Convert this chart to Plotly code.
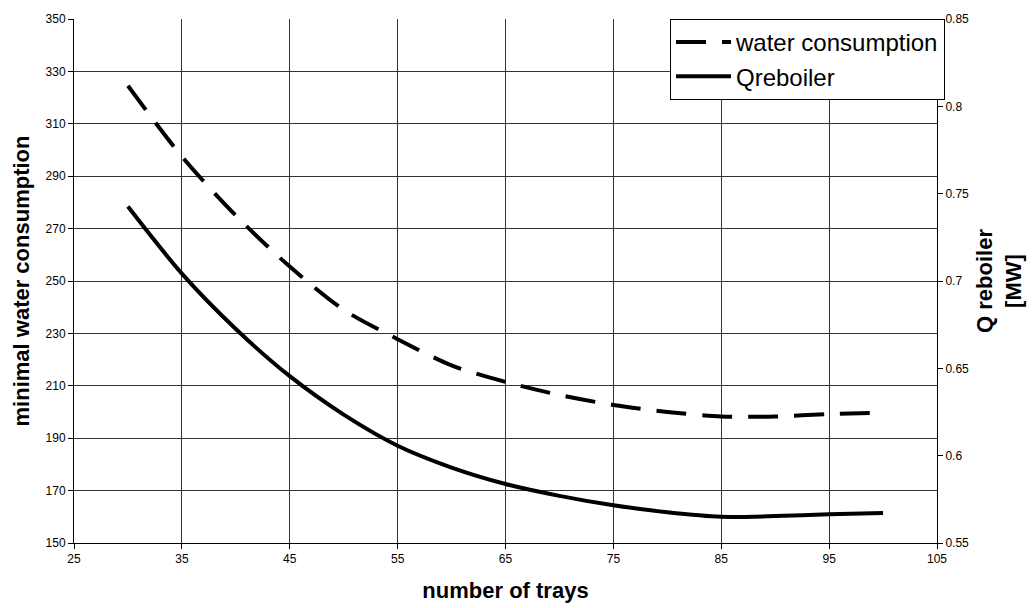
import plotly.graph_objects as go

trays = [30, 35, 40, 45, 50, 55, 60, 65, 70, 75, 80, 85, 90, 95, 100]
water = [324.5, 297.5, 275, 255.5, 239, 227.8, 217.8, 211.5, 206.5, 202.7, 200, 198.3, 198.3, 199.2, 199.8]
qreb = [0.7426, 0.7042, 0.6725, 0.6455, 0.6235, 0.6057, 0.5932, 0.5838, 0.577, 0.5716, 0.5676, 0.565, 0.5654, 0.5665, 0.5672]

left_ticks = [150, 170, 190, 210, 230, 250, 270, 290, 310, 330, 350]
right_ticks = [0.55, 0.6, 0.65, 0.7, 0.75, 0.8, 0.85]
right_labels = ["0.55", "0.6", "0.65", "0.7", "0.75", "0.8", "0.85"]
x_ticks = [25, 35, 45, 55, 65, 75, 85, 95, 105]

FONT = "Liberation Sans, Arial, sans-serif"

fig = go.Figure()
fig.add_trace(go.Scatter(
    x=trays, y=water, name="water consumption", mode="lines",
    line=dict(color="black", width=4, dash="30px,16px", shape="spline", smoothing=0.8),
    yaxis="y"))
fig.add_trace(go.Scatter(
    x=trays, y=qreb, name="Qreboiler", mode="lines",
    line=dict(color="black", width=4, shape="spline", smoothing=0.8),
    yaxis="y2"))

fig.update_layout(
    width=1034, height=608,
    margin=dict(l=74, r=97, t=19, b=65),
    paper_bgcolor="white", plot_bgcolor="white",
    font=dict(family=FONT, color="black", size=12),
    showlegend=True,
    legend=dict(
        x=0.6906, y=1.0, xanchor="left", yanchor="top",
        bgcolor="white", bordercolor="black", borderwidth=1,
        font=dict(size=24, family=FONT, color="black"),
        itemwidth=55, tracegroupgap=0,
    ),
    xaxis=dict(
        range=[25, 105], tickvals=x_ticks, ticks="outside", ticklen=5,
        tickcolor="black", showline=True, linecolor="black", linewidth=1,
        showgrid=True, gridcolor="#333333", gridwidth=1, zeroline=False,
        automargin=False,
        title=dict(text="<b>number of trays</b>", font=dict(size=22, family=FONT), standoff=17),
    ),
    yaxis=dict(
        range=[150, 350], tickvals=left_ticks, ticks="outside", ticklen=5,
        tickcolor="black", showline=True, linecolor="black", linewidth=1,
        showgrid=True, gridcolor="#333333", gridwidth=1, zeroline=False,
        automargin=False,
        title=dict(text="<b>minimal water consumption</b>", font=dict(size=22, family=FONT), standoff=9),
    ),
    yaxis2=dict(
        range=[0.55, 0.85], tickvals=right_ticks, ticktext=right_labels,
        overlaying="y", side="right", ticks="outside", ticklen=5,
        tickcolor="black", showline=True, linecolor="black", linewidth=1,
        showgrid=False, zeroline=False, automargin=False,
        title=dict(text="<b>Q reboiler<br>[MW]</b>", font=dict(size=22, family=FONT), standoff=8),
    ),
)

fig.write_html("out.html")
